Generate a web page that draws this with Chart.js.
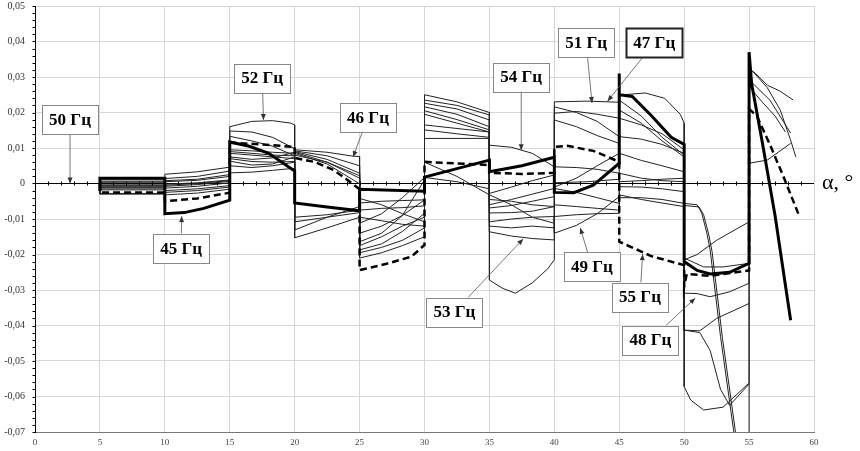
<!DOCTYPE html>
<html>
<head>
<meta charset="utf-8">
<script src="https://cdn.jsdelivr.net/npm/chart.js@4/dist/chart.umd.min.js"></script>
<style>
  html, body { margin: 0; padding: 0; background: #fff; }
  #wrap { width: 860px; height: 451px; position: relative; }
</style>
</head>
<body>
<div id="wrap"><canvas id="freqChart"></canvas></div>
<script>
const serif = "'Liberation Serif', 'Times New Roman', serif";
const gridColor = '#d6d6d6';

// [alpha, deviation] pairs, one curve per array
const boldCurve = [
  [5, -0.0022], [5, 0.0015], [10, 0.0015],
  [10, -0.0085], [11.5, -0.0082], [13, -0.007], [15, -0.0047],
  [15, 0.0117], [16.5, 0.0105], [18, 0.0085], [20, 0.0035],
  [20, -0.0055], [22.5, -0.0066], [25, -0.0077],
  [25, -0.0016], [30, -0.0022],
  [30, 0.0018], [32.5, 0.0042], [35, 0.0066],
  [35, 0.0033], [37.5, 0.005], [40, 0.0074],
  [40, -0.0025], [41.5, -0.0026], [43, -0.0005], [45, 0.0057],
  [45, 0.031], [45, 0.025], [46, 0.0245], [47.5, 0.019], [49, 0.013], [50, 0.011],
  [50, -0.022], [51, -0.0245], [52, -0.0255], [53.5, -0.025], [55, -0.0225],
  [55, 0.037], [55.2, 0.028], [56, 0.012], [57, -0.009], [58.2, -0.0385]
];
const dashCurve = [
  [5, 0], [5, -0.0025], [10, -0.0025],
  [10, -0.005], [12.5, -0.0042], [15, -0.0026],
  [15, 0.0115], [17.5, 0.011], [20, 0.0103],
  [20, 0.0072], [21.5, 0.0061], [23, 0.0038], [24, 0.0012], [25, -0.0016],
  [25, -0.0244], [27, -0.0227], [29, -0.0206], [30, -0.0173],
  [30, 0.0061], [35, 0.0052],
  [35, 0.003], [37.5, 0.0027], [40, 0.003],
  [40, 0.0103], [41, 0.0106], [43, 0.0092], [45, 0.0061],
  [45, -0.0164], [47.5, -0.0205], [50, -0.023],
  [50, -0.029], [50.2, -0.0255], [52, -0.026], [55, -0.0245],
  [55, 0.021], [55.6, 0.019], [56.6, 0.011], [57.7, 0.0015], [58.9, -0.0095]
];
const thin1 = [
  [5, 0], [5, 0.001], [10, 0.001],
  [10, 0.0026], [12.5, 0.0033], [15, 0.0046],
  [15, 0.016], [16.7, 0.0175], [18.3, 0.0177], [19.7, 0.017], [20, 0.0165],
  [20, 0.0095], [22.5, 0.0088], [24.5, 0.0077], [25, 0.0076],
  [25, -0.0042], [26.7, -0.006], [28.3, -0.0085], [30, -0.0108],
  [30, 0.0235], [32.5, 0.022], [35, 0.0193],
  [35, 0.0108], [36.7, 0.0102], [38.3, 0.0085], [40, 0.0047],
  [40, 0.023], [42.5, 0.0232], [45, 0.0229],
  [45, 0.0249], [47, 0.0255], [48.5, 0.024], [49.7, 0.0195], [50, 0.017],
  [50, -0.0215], [51, -0.02], [52.5, -0.016], [55, -0.0108],
  [55, 0.0324], [55.5, 0.031], [56.4, 0.0277], [57.4, 0.026], [58.4, 0.0235]
];
const thin2 = [
  [5, 0], [5, 0.0005], [10, 0.0005],
  [10, 0.0014], [12.5, 0.002], [15, 0.0035],
  [15, 0.0148], [16.7, 0.0145], [18.3, 0.013], [20, 0.0098],
  [20, 0.0092], [22.5, 0.0078], [25, 0.005],
  [25, -0.0112], [26.7, -0.0085], [28.3, -0.004], [30, 0.0017],
  [30, 0.0226], [32.5, 0.021], [35, 0.0179],
  [35, -0.0028], [36.7, -0.001], [38.3, 0.0008], [40, 0.0024],
  [40, 0.0216], [41.7, 0.02], [43.3, 0.0175], [45, 0.0132],
  [45, 0.0235], [46.7, 0.019], [48.3, 0.013], [50, 0.008],
  [50, -0.021], [51.5, -0.0235], [53, -0.0235], [55, -0.0225],
  [55, 0.0315], [55.3, 0.0315], [56.4, 0.027], [57.4, 0.0207], [58.2, 0.0122], [58.6, 0.0075]
];
const thin3 = [
  [5, 0], [5, 0.0002], [10, 0.0002],
  [10, 0.0005], [12.5, 0.0009], [15, 0.002],
  [15, 0.0133], [16.7, 0.012], [18.3, 0.0105], [20, 0.0078],
  [20, 0.009], [22.5, 0.0068], [25, 0.0029],
  [25, -0.014], [26.7, -0.012], [28.3, -0.009], [30, -0.0046],
  [30, 0.0216], [32.5, 0.0195], [35, 0.016],
  [35, -0.006], [36.7, -0.0045], [38.3, -0.003], [40, -0.0014],
  [40, 0.0198], [41.7, 0.0203], [43.3, 0.0195], [45, 0.0184],
  [45, 0.0207], [46.7, 0.017], [48.3, 0.012], [50, 0.0075],
  [50, -0.0309], [51, -0.031], [52, -0.0319], [53.5, -0.0305], [55, -0.0281],
  [55, 0.0292], [56.6, 0.0235], [58.2, 0.0142]
];
const thin4 = [
  [5, 0], [5, -0.0004], [10, -0.0004],
  [10, -0.0002], [12.5, 0.0002], [15, 0.001],
  [15, 0.0095], [16.7, 0.0092], [18.3, 0.0088], [20, 0.0085],
  [20, 0.0088], [22.5, 0.006], [25, 0.0015],
  [25, -0.0164], [26.7, -0.014], [28.3, -0.009], [30, 0.001],
  [30, 0.0151], [32.5, 0.014], [35, 0.013],
  [35, -0.0069], [36.7, -0.0062], [38.3, -0.005], [40, -0.0037],
  [40, 0.0179], [41.7, 0.016], [43.3, 0.0135], [45, 0.0113],
  [45, 0.0184], [46.7, 0.0165], [48.3, 0.014], [50, 0.0095],
  [50, -0.0413], [51.2, -0.0415], [52.5, -0.038], [55, -0.0338]
];
const thin5 = [
  [5, 0], [5, -0.0008], [10, -0.0008],
  [10, -0.0008], [12.5, -0.0003], [15, 0.0006],
  [15, 0.0085], [16.7, 0.008], [18.3, 0.0075], [20, 0.007],
  [20, 0.0085], [22.5, 0.0055], [25, -0.0001],
  [25, -0.0187], [26.7, -0.017], [28.3, -0.0135], [30, -0.0084],
  [30, 0.0127], [32.5, 0.0127], [35, 0.0127],
  [35, -0.0083], [36.7, -0.0082], [38.3, -0.0078], [40, -0.0065],
  [40, 0.0047], [41.7, 0.0045], [43.3, 0.004], [45, 0.0029],
  [45, 0.0132], [46.7, 0.0125], [48.3, 0.011], [50, 0.0085],
  [50, -0.0413], [51.2, -0.042], [52, -0.047], [52.8, -0.058], [53.5, -0.0625], [55, -0.0565]
];
const thin6 = [
  [5, 0], [5, -0.0011], [10, -0.0011],
  [10, -0.0013], [12.5, -0.0008], [15, 0.0002],
  [15, 0.0075], [16.7, 0.0068], [18.3, 0.0072], [20, 0.0088],
  [20, -0.0056], [22.5, -0.0065], [25, -0.0078],
  [25, -0.021], [26.7, -0.0195], [28.3, -0.0175], [30, -0.015],
  [30, 0.006], [32.5, 0.002], [35, -0.0032],
  [35, -0.0032], [36.7, -0.006], [38.3, -0.0095], [40, -0.0112],
  [40, -0.001], [41.7, 0.0015], [43.3, 0.005], [45, 0.0085],
  [45, 0.0085], [46.7, 0.0065], [48.3, 0.005], [50, 0.0033],
  [50, -0.0572], [50.5, -0.061], [51.5, -0.0638], [53, -0.063], [55, -0.0562],
  [55, 0.0057], [56.4, 0.0066], [58.2, 0.0113]
];
const thin7 = [
  [5, 0], [5, -0.0015], [10, -0.0015],
  [10, -0.002], [12.5, -0.0015], [15, -0.0006],
  [15, 0.007], [16.7, 0.0062], [18.3, 0.006], [20, 0.0062],
  [20, -0.0095], [22.5, -0.0088], [25, -0.0075],
  [25, -0.0055], [26.7, -0.005], [28.3, -0.0048], [30, -0.0046],
  [30, 0.0017], [32.5, 0.0005], [35, -0.0015],
  [35, -0.0136], [36.7, -0.0148], [38.3, -0.0155], [40, -0.0159],
  [40, -0.0014], [41.7, -0.0025], [43.3, -0.004], [45, -0.0056],
  [45, 0.0029], [46.7, 0.0015], [48.3, 0.0008], [50, 0.0005]
];
const thin8 = [
  [5, 0], [5, -0.0018], [10, -0.0018],
  [10, -0.0032], [12.5, -0.0027], [15, -0.0016],
  [15, 0.0063], [16.7, 0.0052], [18.3, 0.0055], [20, 0.0075],
  [20, -0.0108], [22.5, -0.0095], [25, -0.0082],
  [25, -0.0095], [26.7, -0.0105], [28.3, -0.0115], [30, -0.012],
  [30, 0.025], [32.5, 0.023], [35, 0.02],
  [35, -0.0272], [36, -0.0295], [37, -0.0309], [38.3, -0.028], [39.5, -0.024], [40, -0.0215],
  [40, -0.0093], [41.7, -0.0088], [43.3, -0.0085], [45, -0.0084],
  [45, -0.0009], [46.7, -0.001], [48.3, -0.0015], [50, -0.0023]
];
const thin9 = [
  [5, 0], [5, -0.0028], [10, -0.0028],
  [10, -0.0025], [12.5, -0.002], [15, -0.001],
  [15, 0.005], [16.7, 0.0045], [18.3, 0.005], [20, 0.006],
  [20, -0.0131], [22.5, -0.0095], [25, -0.0065],
  [25, -0.0175], [26.7, -0.015], [28.3, -0.012], [30, -0.0095],
  [30, 0.0205], [32.5, 0.018], [35, 0.0151],
  [35, -0.0108], [36.7, -0.01], [38.3, -0.0095], [40, -0.0093],
  [40, -0.014], [41.7, -0.0118], [43.3, -0.0085], [45, -0.0037],
  [45, -0.0032], [46.7, -0.0045], [48.3, -0.0055], [50, -0.0065]
];
const thin10 = [
  [5, 0], [5, -0.003], [10, -0.003],
  [10, 0.0008], [12.5, 0.0012], [15, 0.0025],
  [15, 0.003], [16.7, 0.0032], [18.3, 0.0037], [20, 0.0043],
  [20, -0.0153], [22.5, -0.0125], [25, -0.0095],
  [25, -0.0195], [26.7, -0.018], [28.3, -0.016], [30, -0.0125],
  [30, 0.0165], [32.5, 0.0155], [35, 0.0145],
  [35, -0.012], [36.7, -0.0125], [38.3, -0.012], [40, -0.0125],
  [40, 0.0002], [42.5, 0.0005], [45, 0.0012],
  [45, 0.0005], [46.7, 0.0008], [48.3, 0.0012], [50, 0.0015]
];
const doubleA = [
  [5, 0], [5, -0.0005], [10, -0.0005],
  [10, -0.0005], [12.5, 0], [15, 0.0008],
  [15, 0.009], [16.7, 0.0085], [18.3, 0.008], [20, 0.0078],
  [20, 0.008], [22.5, 0.006], [25, 0.0022],
  [25, -0.0075], [26.7, -0.007], [28.3, -0.0068], [30, -0.0063],
  [30, 0.0195], [32.5, 0.017], [35, 0.0145],
  [35, -0.0045], [36.7, -0.005], [38.3, -0.006], [40, -0.0065],
  [40, -0.006], [41.7, -0.0065], [43.3, -0.007], [45, -0.0075],
  [45, -0.004], [46.7, -0.004], [48.3, -0.0045], [50, -0.0056],
  [51, -0.006], [51.35, -0.0083], [51.75, -0.014], [52, -0.0187], [52.25, -0.0263],
  [52.8, -0.0431], [53.3, -0.0562], [53.8, -0.0694], [54.4, -0.085], [55, -0.1],
  [55, 0.0273], [56, 0.023], [57, 0.019], [57.8, 0.0145]
];
const doubleB = [
  [50, -0.0062], [51.15, -0.0066], [51.5, -0.0088], [51.9, -0.0145], [52.15, -0.0192],
  [52.4, -0.0268], [52.95, -0.0436], [53.45, -0.0567], [53.95, -0.07], [54.55, -0.086]
];

// boxed frequency labels: text, box centre and arrow tip in chart units
const labelText = ['50 Гц', '52 Гц', '45 Гц', '46 Гц', '53 Гц', '54 Гц', '51 Гц', '47 Гц', '49 Гц', '55 Гц', '48 Гц'];
const labelAt = [[2.7, 0.0179], [17.5, 0.0297], [11.25, -0.0182], [25.65, 0.0187], [32.3, -0.0362],
  [37.45, 0.030], [42.45, 0.0396], [47.7, 0.0396], [42.9, -0.0235], [46.6, -0.032], [47.4, -0.0441]];
const arrowTo = [[2.7, 0], [17.6, 0.0179], [11.3, -0.0092], [24.5, 0.0075], [37.6, -0.0156],
  [37.45, 0.0094], [42.9, 0.0227], [44.1, 0.0232], [42.0, -0.0125], [46.8, -0.0199], [50.85, -0.0323]];
const boldLabel = '47 Гц';

const toXY = pts => pts.map(([x, y]) => ({ x, y }));
const thinCurves = [thin1, thin2, thin3, thin4, thin5, thin6, thin7, thin8, thin9, thin10, doubleA, doubleB];

const annotate = {
  id: 'annotate',
  afterDatasetsDraw(chart) {
    const { ctx, chartArea, scales: { x, y } } = chart;
    ctx.save();
    // small marks on the zero line
    ctx.strokeStyle = '#000';
    ctx.lineWidth = 1;
    const y0 = Math.round(y.getPixelForValue(0)) + 0.5;
    for (let a = 1; a < 60; a++) {
      const px = Math.round(x.getPixelForValue(a)) + 0.5;
      ctx.beginPath(); ctx.moveTo(px, y0 - 2); ctx.lineTo(px, y0 + 2); ctx.stroke();
    }
    // minor marks on the vertical axis
    const xl = Math.round(chartArea.left) + 0.5;
    for (let i = -35; i <= 25; i++) {
      const py = Math.round(y.getPixelForValue(i * 0.002)) + 0.5;
      ctx.beginPath(); ctx.moveTo(xl - 3, py); ctx.lineTo(xl, py); ctx.stroke();
    }
    // axis name
    ctx.fillStyle = '#000';
    ctx.font = '22px ' + serif;
    ctx.textAlign = 'left';
    ctx.textBaseline = 'middle';
    ctx.fillText('α, °', chartArea.right + 8, y0);

    // labels with arrows
    ctx.font = 'bold 17px ' + serif;
    ctx.textAlign = 'center';
    labelText.forEach((t, i) => {
      const cx = x.getPixelForValue(labelAt[i][0]);
      const cy = y.getPixelForValue(labelAt[i][1]);
      const tx = x.getPixelForValue(arrowTo[i][0]);
      const ty = y.getPixelForValue(arrowTo[i][1]);
      const hw = (ctx.measureText(t).width + 14) / 2;
      const hh = 14.5;
      const dx = tx - cx, dy = ty - cy;
      const s = Math.min(dx ? hw / Math.abs(dx) : 1e9, dy ? hh / Math.abs(dy) : 1e9);
      const sx = cx + dx * s, sy = cy + dy * s;
      ctx.strokeStyle = '#555';
      ctx.lineWidth = 0.8;
      ctx.beginPath(); ctx.moveTo(sx, sy); ctx.lineTo(tx, ty); ctx.stroke();
      const ang = Math.atan2(ty - sy, tx - sx);
      ctx.fillStyle = '#333';
      ctx.beginPath();
      ctx.moveTo(tx, ty);
      ctx.lineTo(tx - 6 * Math.cos(ang) + 2.5 * Math.sin(ang), ty - 6 * Math.sin(ang) - 2.5 * Math.cos(ang));
      ctx.lineTo(tx - 6 * Math.cos(ang) - 2.5 * Math.sin(ang), ty - 6 * Math.sin(ang) + 2.5 * Math.cos(ang));
      ctx.closePath(); ctx.fill();

      ctx.fillStyle = '#fff';
      ctx.fillRect(cx - hw, cy - hh, hw * 2, hh * 2);
      ctx.strokeStyle = t === boldLabel ? '#222' : '#888';
      ctx.lineWidth = t === boldLabel ? 2 : 1;
      ctx.strokeRect(Math.round(cx - hw) + 0.5, Math.round(cy - hh) + 0.5, Math.round(hw * 2), Math.round(hh * 2));
      ctx.fillStyle = '#000';
      ctx.fillText(t, cx, cy + 1);
    });
    ctx.restore();
  }
};

new Chart(document.getElementById('freqChart'), {
  type: 'scatter',
  data: {
    datasets: [
      { data: toXY(boldCurve), borderColor: '#000', borderWidth: 3, order: 0 },
      { data: toXY(dashCurve), borderColor: '#000', borderWidth: 2.5, borderDash: [7, 4], order: 1 },
      ...thinCurves.map(c => ({ data: toXY(c), borderColor: '#222', borderWidth: 1, order: 2 })),
    ].map(d => Object.assign(d, { showLine: true, pointRadius: 0, tension: 0, fill: false })),
  },
  options: {
    responsive: true,
    maintainAspectRatio: false,
    animation: false,
    layout: { padding: { top: 0, right: 46, left: 0, bottom: 0 } },
    plugins: {
      legend: { display: false },
      tooltip: { enabled: false },
    },
    scales: {
      x: {
        type: 'linear',
        min: 0,
        max: 60,
        afterFit: s => { s.height = 19; },
        ticks: { stepSize: 5, color: '#444', font: { family: serif, size: 9 }, padding: 5 },
        grid: {
          color: c => c.tick.value === 0 ? '#000' : gridColor,
          drawTicks: false,
        },
        border: { color: '#777' },
      },
      y: {
        min: -0.07,
        max: 0.05,
        afterFit: s => { s.width = 35; s.paddingTop = 6; },
        ticks: {
          stepSize: 0.01,
          color: '#333',
          font: { family: serif, size: 10, lineHeight: 1 },
          padding: 10,
          callback: v => Math.abs(v) < 1e-9 ? '0' : v.toFixed(2).replace('.', ','),
        },
        grid: {
          color: c => Math.abs(c.tick.value) < 1e-9 ? '#000' : gridColor,
          drawTicks: false,
        },
        border: { color: '#000' },
      },
    },
  },
  plugins: [annotate],
});
</script>
</body>
</html>
